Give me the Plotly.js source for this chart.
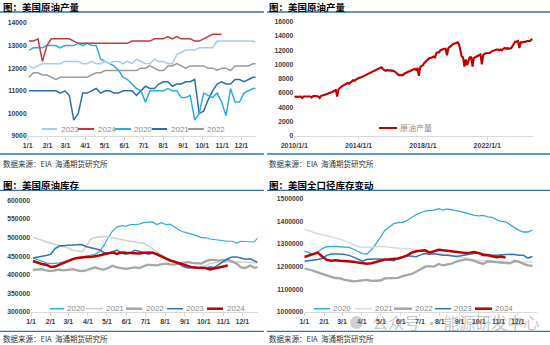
<!DOCTYPE html>
<html><head><meta charset="utf-8">
<script src="https://cdn.plot.ly/plotly-3.0.1.min.js"></script>
<style>html,body{margin:0;padding:0;background:#fff;}#chart{width:550px;height:345px;}</style>
</head><body><div id="chart"></div>
<script>
// ---------- shared tick labels ----------
const monthDays = [0,31,59,90,120,151,181,212,243,273,304,334];
const monthLabels = ['1/1','2/1','3/1','4/1','5/1','6/1','7/1','8/1','9/1','10/1','11/1','12/1'];
const yearTickDates = ['2010-01-01','2014-01-01','2018-01-01','2022-01-01'];
const yearTickLabels = ['2010/1/1','2014/1/1','2018/1/1','2022/1/1'];

// ---------- panel 1: weekly US crude production by year (kb/d) ----------
const prod2023 = [12100,12000,12100,12200,12200,12200,12200,12200,12300,12300,12300,12300,12200,12200,12300,12200,12200,12300,12200,12300,12300,12200,12300,12200,12400,12300,12200,12200,12400,12300,12300,12200,12200,12600,12700,12800,12800,12800,12900,12900,12900,12900,13200,13200,13200,13200,13200,13200,13200,13200,13200,13100];
const prod2024 = [13200,13200,13300,12300,13000,13300,13300,13300,13300,13300,13200,13100,13100,13100,13100,13100,13100,13100,13100,13100,13100,13100,13100,13200,13200,13200,13200,13200,13300,13300,13300,13400,13300,13400,13300,13300,13300,13200,13200,13300,13400,13500,13500,13500];
const prod2020 = [12800,12900,12900,12900,13000,13000,13000,12900,13000,13000,13000,13100,13000,13100,13000,13000,12400,12300,12200,12100,11900,11600,11500,11300,11100,11000,10500,11000,11000,11000,11000,11100,11000,11000,10700,10700,10800,9700,10000,10900,10800,10700,10900,10500,9900,11100,10500,10500,10900,11000,11100,11100];
const prod2021 = [11000,11000,11000,11000,11000,11000,11000,10900,11000,10800,9700,10000,10900,10900,11000,11100,10900,11000,11000,10900,10900,11000,11000,11000,10800,11000,11200,11100,11100,11300,11400,11400,11200,11300,11300,11400,11400,11500,10000,10100,10600,11000,11300,11400,11300,11300,11500,11500,11400,11500,11600,11600];
const prod2022 = [11600,11800,11800,11700,11700,11600,11500,11600,11600,11600,11600,11600,11600,11600,11700,11800,11800,11900,11900,11900,11900,11900,11900,11900,11900,12000,12000,12100,12000,11900,11900,12100,12100,12200,12100,12000,12100,12100,12100,12100,12000,12000,11900,12000,12000,11900,12100,12100,12100,12100,12200,12200];

// ---------- panel 2: monthly US crude production 2010-01 .. 2024-11 (kb/d) ----------
const prodHistStart = '2010-01';
const prodHist = [
 5400,5500,5450,5500,5450,5500,5300,5500,5500,5550,5500,5500,
 5500,5350,5550,5600,5550,5600,5500,5300,5600,5650,5700,5800,
 5800,5900,6000,6000,6100,6200,6300,6400,5500,6500,6700,6900,
 7000,7100,7200,7300,7400,7300,7500,7600,7800,7700,7900,8000,
 8100,8100,8200,8300,8400,8500,8500,8600,8800,8900,9000,9100,
 9200,9300,9400,9400,9500,9600,9400,9300,9100,9200,9200,9200,
 9200,9100,9100,9000,8800,8700,8500,8500,8500,8500,8700,8800,
 8800,9000,9100,9200,9300,9300,9400,9200,9500,8400,9600,9800,
 9900,10200,10400,10500,10700,10900,10900,11000,11100,10900,11600,11700,
 11700,12000,12100,12200,12200,12200,11300,12300,12400,12600,12800,12900,
 13000,13000,13100,12800,11800,11100,11000,9700,10700,9900,10500,11000,
 11000,9700,10900,11000,11000,11100,11200,11400,10000,11300,11500,11600,
 11600,11600,11600,11800,11900,12000,12100,12100,12100,12000,12100,12000,
 12200,12300,12200,12300,12200,12200,12300,12600,12900,13200,13200,13300,
 12300,13100,13100,13100,13100,13200,13300,13300,13300,13500,13500];

// ---------- panel 3: weekly commercial crude stocks (thousand bbl, in k) ----------
const stk2020 = [445,440,435,432,430,430,432,435,440,443,445,448,450,452,455,462,478,500,518,528,532,530,535,535,536,540,541,542,535,540,535,536,528,520,515,512,510,505,500,500,496,494,493,491,490,490,485,490,490,490,488,503];
const stk2021 = [500,497,493,488,485,483,480,477,472,466,463,462,475,495,500,502,503,502,500,497,495,492,490,488,486,484,478,470,462,452,445,438,432,428,425,422,420,420,421,425,430,432,434,435,434,433,435,435,434,433,432,432];
const stk2022 = [413,415,415,412,410,412,414,412,413,415,412,410,412,415,420,416,414,418,424,420,418,416,418,420,418,422,427,426,425,428,430,428,427,430,432,434,432,430,430,436,440,440,438,440,440,436,430,420,418,425,419,421];
const stk2023 = [445,447,448,452,455,470,477,479,479,480,481,481,476,472,470,467,460,458,462,466,458,455,459,466,463,460,455,458,457,450,444,440,435,428,422,418,419,421,420,418,421,420,428,437,443,448,448,445,442,443,438,432];
const stk2024 = [437,432,429,427,421,422,427,432,439,442,445,447,448,448,449,452,455,458,460,456,460,459,458,458,457,459,460,460,455,449,443,438,435,431,427,424,420,419,418,418,414,417,420,424,425];

// ---------- panel 4: weekly total stocks incl. SPR (thousand bbl, in k) ----------
const tot2020 = [1269,1262,1255,1265,1280,1288,1290,1290,1288,1287,1285,1277,1268,1258,1256,1275,1300,1330,1360,1375,1390,1394,1396,1404,1418,1430,1438,1445,1448,1450,1456,1450,1455,1452,1446,1443,1438,1432,1426,1424,1426,1420,1418,1408,1400,1398,1385,1372,1360,1353,1353,1362];
const tot2021 = [1365,1358,1352,1345,1341,1338,1332,1326,1322,1315,1305,1296,1289,1286,1285,1286,1288,1290,1288,1285,1284,1282,1279,1280,1278,1274,1270,1268,1265,1262,1258,1256,1252,1250,1246,1243,1240,1234,1230,1228,1226,1224,1222,1220,1219,1218,1218,1219,1220,1220,1221,1222];
const tot2022 = [1192,1188,1182,1175,1168,1160,1155,1150,1148,1142,1138,1135,1137,1140,1142,1137,1137,1139,1148,1150,1150,1151,1158,1162,1168,1178,1188,1200,1202,1200,1212,1206,1210,1214,1222,1228,1232,1230,1226,1218,1212,1224,1222,1222,1220,1218,1215,1226,1222,1212,1206,1204];
const tot2023 = [1224,1226,1228,1232,1236,1250,1256,1257,1256,1254,1250,1242,1234,1224,1233,1235,1234,1234,1232,1228,1226,1238,1244,1248,1246,1244,1252,1258,1255,1257,1254,1250,1250,1248,1245,1248,1252,1256,1260,1262,1256,1252,1250,1250,1252,1252,1255,1254,1250,1250,1238,1245];
const tot2024 = [1243,1250,1258,1262,1245,1230,1226,1228,1226,1225,1225,1222,1218,1215,1213,1215,1220,1226,1232,1233,1234,1236,1242,1250,1262,1268,1270,1272,1262,1268,1275,1272,1270,1268,1266,1264,1260,1262,1265,1260,1252,1250,1245,1242,1245,1240];

// ---------- helpers ----------
const W = 550, H = 345;
const fx = p => p / W;
const fy = p => 1 - p / H;
const weekX = (arr, off) => arr.map((_, i) => off + 7 * i);
const k = arr => arr.map(v => v * 1000);
function monthDates(start, n) {
  const [y0, m0] = start.split('-').map(Number);
  const out = [];
  for (let i = 0; i < n; i++) {
    const t = (m0 - 1) + i;
    const y = y0 + Math.floor(t / 12), m = (t % 12) + 1;
    out.push(y + '-' + String(m).padStart(2, '0') + '-01');
  }
  return out;
}

const C = {
  c2020: '#2eaae1', c2021dk: '#2a6db3', c2022: '#9a9a9a', c2023lt: '#a9cbea', c2024: '#c23b3b',
  red: '#c00000', blue: '#2e75b6', lgray: '#d0d0d0', mgray: '#a6a6a6', rule: '#2e75b6'
};

function ln(x, y, xa, ya, color, width) {
  return {x, y, xaxis: xa, yaxis: ya, type: 'scatter', mode: 'lines',
          line: {color, width}, showlegend: false, hoverinfo: 'skip'};
}

const traces = [
  ln(weekX(prod2022, 2), prod2022, 'x', 'y', C.c2022, 1.5),
  ln(weekX(prod2021, 2), prod2021, 'x', 'y', C.c2021dk, 1.5),
  ln(weekX(prod2020, 2), prod2020, 'x', 'y', C.c2020, 1.5),
  ln(weekX(prod2023, 2), prod2023, 'x', 'y', C.c2023lt, 1.5),
  ln(weekX(prod2024, 2), prod2024, 'x', 'y', C.c2024, 1.5),

  ln(monthDates(prodHistStart, prodHist.length), prodHist, 'x2', 'y2', C.red, 2.1),

  ln(weekX(stk2020, 3), k(stk2020), 'x3', 'y3', C.c2020, 1.2),
  ln(weekX(stk2021, 3), k(stk2021), 'x3', 'y3', C.lgray, 1.5),
  ln(weekX(stk2022, 3), k(stk2022), 'x3', 'y3', C.mgray, 2.3),
  ln(weekX(stk2023, 3), k(stk2023), 'x3', 'y3', C.blue, 1.5),
  ln(weekX(stk2024, 3), k(stk2024), 'x3', 'y3', C.red, 2.5),

  ln(weekX(tot2020, 0), k(tot2020), 'x4', 'y4', C.c2020, 1.3),
  ln(weekX(tot2021, 0), k(tot2021), 'x4', 'y4', '#dadada', 1.5),
  ln(weekX(tot2022, 0), k(tot2022), 'x4', 'y4', C.mgray, 2.3),
  ln(weekX(tot2023, 0), k(tot2023), 'x4', 'y4', C.blue, 1.5),
  ln(weekX(tot2024, 0), k(tot2024), 'x4', 'y4', C.red, 2.5)
];

const tickFontX = {family: 'Liberation Sans, Arial, sans-serif', size: 7, color: '#404040', weight: 'bold'};
const tickFontY = {family: 'Liberation Sans, Arial, sans-serif', size: 6.8, color: '#404040', weight: 'bold'};

function xAx(domain, range, extra) {
  return Object.assign({domain, range, showgrid: false, zeroline: false, showline: true,
    linecolor: '#d9d9d9', linewidth: 1, ticks: 'outside', ticklen: 3, tickcolor: '#d9d9d9',
    tickfont: tickFontX, fixedrange: true}, extra);
}
function yAx(domain, range, dtick, anchor) {
  return {domain, range, dtick, anchor, showgrid: false, zeroline: false, showline: false,
    ticks: '', tickfont: tickFontY, separatethousands: false, tickformat: 'd', fixedrange: true};
}

const cjk = 'Noto Sans CJK SC, sans-serif';
const annotations = [];
const shapes = [];
function txt(x, y, text, size, color, bold, anchor) {
  annotations.push({xref: 'paper', yref: 'paper', x: fx(x), y: fy(y), text, showarrow: false,
    xanchor: anchor || 'left', yanchor: 'middle', borderpad: 0,
    font: {family: cjk, size, color, weight: bold ? 'bold' : 'normal'}});
}
function rule(x0, x1, y) {
  shapes.push({type: 'line', xref: 'paper', yref: 'paper', x0: fx(x0), x1: fx(x1), y0: fy(y), y1: fy(y),
    line: {color: C.rule, width: 1.3}});
}
function legItem(x0, x1, tx, y, color, width, label) {
  shapes.push({type: 'line', xref: 'paper', yref: 'paper', x0: fx(x0), x1: fx(x1), y0: fy(y), y1: fy(y),
    line: {color, width}});
  annotations.push({xref: 'paper', yref: 'paper', x: fx(tx), y: fy(y), text: label, showarrow: false,
    xanchor: 'left', yanchor: 'middle', borderpad: 0,
    font: {family: 'Liberation Sans, Noto Sans CJK SC, sans-serif', size: 8, color: '#8a8a8a'}});
}

// titles, rules, sources
const src = '数据来源：EIA  海通期货研究所';
txt(2, 6.7, '图：美国原油产量', 9.5, '#000', true);
txt(268, 6.7, '图：美国原油产量', 9.5, '#000', true);
txt(2, 185.3, '图：美国原油库存', 9.5, '#000', true);
txt(268, 185.3, '图：美国全口径库存变动', 9.5, '#000', true);
txt(2, 163, src, 7.5, '#333', false);
txt(268, 163, src, 7.5, '#333', false);
txt(2, 338.5, src, 7.5, '#333', false);
txt(268, 338.5, src, 7.5, '#333', false);
rule(0, 264, 12); rule(267, 550, 12);
rule(0, 264, 154); rule(267, 550, 154);
rule(0, 264, 190.3); rule(267, 550, 190.3);
rule(0, 264, 331.3); rule(267, 550, 331.3);

// legends
legItem(42, 57, 60, 129, C.c2023lt, 2, '2023');
legItem(78, 94, 97, 129, C.c2024, 2, '2024');
legItem(115, 131, 133, 129, C.c2020, 2, '2020');
legItem(152, 167, 170, 129, C.c2021dk, 2, '2021');
legItem(188, 204, 206, 129, C.c2022, 2, '2022');

legItem(379, 397, 399, 128, C.red, 2, '原油产量');

legItem(50, 64, 66, 308.7, C.c2020, 1.5, '2020');
legItem(86, 103, 105, 308.7, C.lgray, 1.5, '2021');
legItem(126, 142, 145, 308.7, C.mgray, 2.5, '2022');
legItem(167, 183, 185, 308.7, C.blue, 1.5, '2023');
legItem(207, 223, 226, 308.7, C.red, 2.5, '2024');

legItem(314, 330, 332, 308.7, C.c2020, 1.5, '2020');
legItem(355, 372, 374, 308.7, '#dadada', 1.5, '2021');
legItem(394, 412, 414, 308.7, C.mgray, 2.5, '2022');
legItem(435, 451, 453, 308.7, C.blue, 1.5, '2023');
legItem(475, 492, 494, 308.7, C.red, 2.5, '2024');

// watermark
shapes.push({type: 'circle', xref: 'paper', yref: 'paper', x0: fx(350), x1: fx(363), y0: fy(329), y1: fy(316),
  fillcolor: 'rgba(150,150,150,0.45)', line: {width: 0}});
annotations.push({xref: 'paper', yref: 'paper', x: fx(370), y: fy(322), text: '公众号 · 能源研发中心', showarrow: false,
  xanchor: 'left', yanchor: 'middle', font: {family: cjk, size: 16, color: 'rgba(120,120,120,0.45)'}});

const layout = {
  width: W, height: H, margin: {l: 0, r: 0, t: 0, b: 0},
  paper_bgcolor: '#fff', plot_bgcolor: 'rgba(0,0,0,0)', showlegend: false,
  xaxis: xAx([fx(27.7), fx(255.5)], [0, 356], {anchor: 'y', tickmode: 'array', tickvals: monthDays, ticktext: monthLabels}),
  yaxis: yAx([fy(136), fy(23)], [9000, 14000], 1000, 'x'),
  xaxis2: xAx([fx(294.3), fx(532.8)], ['2010-01-01', '2024-11-01'], {anchor: 'y2', type: 'date', tickmode: 'array', tickvals: yearTickDates, ticktext: yearTickLabels}),
  yaxis2: yAx([fy(135.7), fy(21.7)], [0, 16000], 2000, 'x2'),
  xaxis3: xAx([fx(31), fx(257.5)], [0, 358], {anchor: 'y3', tickmode: 'array', tickvals: monthDays, ticktext: monthLabels}),
  yaxis3: yAx([fy(312), fy(200.3)], [300000, 600000], 50000, 'x3'),
  xaxis4: xAx([fx(304.3), fx(536.9)], [0, 364], {anchor: 'y4', tickmode: 'array', tickvals: monthDays, ticktext: monthLabels}),
  yaxis4: yAx([fy(312), fy(198.7)], [1000000, 1500000], 100000, 'x4'),
  annotations, shapes
};

Plotly.newPlot('chart', traces, layout, {staticPlot: true, displayModeBar: false});
</script></body></html>
